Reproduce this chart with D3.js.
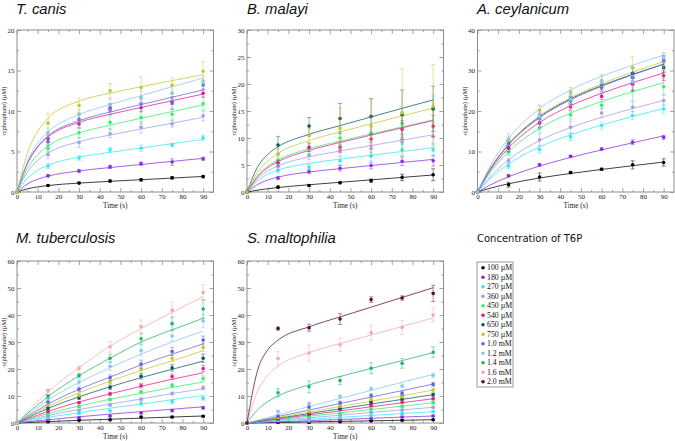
<!DOCTYPE html>
<html><head><meta charset="utf-8">
<script src="https://cdn.jsdelivr.net/npm/d3@7"></script>
<style>body{margin:0;background:#fff}</style>
</head><body>
<svg id="c" width="675" height="441"></svg>
<script>
const concLabels = ["100 µM","180 µM","270 µM","360 µM","450 µM","540 µM","650 µM","750 µM","1.0 mM","1.2 mM","1.4 mM","1.6 mM","2.0 mM"];
const concColors = ["#000000","#8a2be2","#33e8f8","#9c9cf0","#33ee6a","#e6188c","#0b5660","#c6c630","#6262e4","#86c6f2","#1fb466","#f4a8a8","#5a0a3c"];
const sampleTimes = [0,15,30,45,60,75,90];
const fitTimes = [0,5,10,15,30,45,60,75,90];
const xTicks = [0,10,20,30,40,50,60,70,80,90];

// ---- T. canis ----
const tcanisSeries = [0,1,2,3,4,5,8,9,7];
const tcanisY = [
 [0,0.8,1.1,1.35,1.5,1.75,1.9],
 [0,2.0,2.6,3.1,3.5,3.7,4.1],
 [0,3.2,4.2,5.2,5.4,5.8,6.7],
 [0,4.6,6.1,7.2,8.0,8.4,9.4],
 [0,5.4,7.3,8.6,9.2,9.6,10.9],
 [0,6.6,8.4,10.4,10.4,11.2,12.2],
 [0,6.2,9.0,10.2,10.9,11.0,13.2],
 [0,7.3,9.6,10.8,11.7,12.2,13.5],
 [0,8.5,10.7,12.5,12.9,13.2,14.9]];
const tcanisErr = [
 [0,.1,.1,.15,.15,.15,.15],
 [0,.15,.2,.2,.2,.4,.2],
 [0,.3,.3,.3,.4,.2,.3],
 [0,.5,.6,.5,.7,.4,.6],
 [0,.5,.6,.8,.8,.7,.8],
 [0,.4,.5,.5,.5,.4,.5],
 [0,.5,.6,.6,.6,.8,.6],
 [0,.6,.6,.7,.8,.9,.8],
 [0,1.2,.9,.9,1.3,.9,1.2]];
const tcanisFit = [
 [0,.39,.63,.8,1.1,1.32,1.52,1.72,1.92],
 [0,.98,1.58,1.96,2.6,3.02,3.4,3.78,4.15],
 [0,1.68,2.68,3.31,4.3,4.9,5.44,5.97,6.49],
 [0,2.45,3.9,4.81,6.21,7.04,7.78,8.5,9.22],
 [0,2.9,4.6,5.67,7.29,8.25,9.1,9.93,10.75],
 [0,3.5,5.54,6.79,8.6,9.59,10.44,11.27,12.09],
 [0,3.55,5.63,6.91,8.8,9.87,10.8,11.7,12.6],
 [0,3.79,6.03,7.43,9.55,10.8,11.9,13.0,14.08],
 [0,4.76,7.49,9.1,11.23,12.2,13.0,13.75,14.5]];

// ---- B. malayi ----
const bmalayiSeries = [0,1,2,3,4,5,6,7];
const bmalayiY = [
 [0,.9,1.2,1.7,2.1,2.7,3.2],
 [0,2.6,3.8,4.4,4.9,5.7,5.8],
 [0,4.0,4.6,5.8,6.6,7.8,7.8],
 [0,4.7,6.8,7.7,8.0,9.2,10.3],
 [0,5.9,8.0,10.0,10.7,12.7,15.3],
 [0,5.4,8.3,8.3,9.8,11.6,12.2],
 [0,8.7,12.2,13.6,14.0,14.3,15.4],
 [0,7.0,10.4,11.8,12.2,14.7,15.9]];
const bmalayiErr = [
 [0,.2,.2,.2,.3,.6,1.1],
 [0,.3,.4,.5,.6,.8,1.0],
 [0,.5,.6,.7,.8,1.0,1.2],
 [0,.6,.8,1.0,1.2,1.4,1.6],
 [0,.6,.9,1.2,1.5,2.0,2.5],
 [0,.5,.8,1.0,1.3,1.6,2.0],
 [0,1.6,1.6,2.8,3.3,4.6,4.2],
 [0,1.0,1.4,3.8,5.0,8.1,7.7]];
const bmalayiFit = [
 [0,.35,.61,.83,1.34,1.8,2.25,2.7,3.15],
 [0,1.37,2.21,2.76,3.7,4.32,4.9,5.47,6.04],
 [0,2.03,3.27,4.04,5.3,6.08,6.8,7.5,8.2],
 [0,2.4,3.89,4.84,6.5,7.6,8.6,9.6,10.6],
 [0,2.93,4.75,5.93,8.0,9.42,10.75,12.05,13.35],
 [0,2.77,4.5,5.64,7.7,9.17,10.54,11.89,13.24],
 [0,4.54,6.95,8.38,10.67,12.3,13.9,15.5,17.05],
 [0,3.56,5.72,7.14,9.53,11.14,12.62,14.08,15.53]];

// ---- A. ceylanicum ----
const aceylSeries = [0,1,2,3,4,5,6,7,8,9];
const aceylY = [
 [0,1.8,3.7,4.8,5.6,6.7,7.3],
 [0,4.0,6.7,8.8,10.6,12.3,13.5],
 [0,6.4,10.5,13.6,16.4,18.9,20.5],
 [0,7.7,12.9,16.0,19.5,21.0,22.6],
 [0,9.8,15.8,19.0,21.4,25.0,26.0],
 [0,10.8,17.0,21.0,23.6,26.6,28.7],
 [0,11.9,18.5,22.6,26.2,29.3,30.7],
 [0,12.8,20.2,24.6,27.4,30.7,32.2],
 [0,11.5,18.2,23.0,25.8,28.3,32.5],
 [0,13.0,18.6,22.8,27.5,27.3,33.3]];
const aceylErr = [
 [0,.6,1.0,.3,.3,1.0,.9],
 [0,.3,.3,.3,.3,.6,.5],
 [0,.6,.9,.9,.9,1.0,1.2],
 [0,.6,1.5,1.5,1.2,1.2,1.3],
 [0,.8,1.0,1.0,.8,2.5,2.0],
 [0,.8,1.0,.8,.8,1.5,1.2],
 [0,.9,1.0,1.0,1.0,1.2,1.2],
 [0,1.0,1.2,1.2,1.2,2.7,2.0],
 [0,1.0,1.0,1.0,1.0,1.2,1.2],
 [0,1.5,2.8,2.2,1.5,1.5,1.2]];
const aceylFit = [
 [0,.78,1.44,2.03,3.45,4.58,5.57,6.5,7.4],
 [0,1.43,2.67,3.76,6.41,8.53,10.4,12.15,13.86],
 [0,2.73,4.98,6.9,11.13,14.13,16.53,18.65,20.65],
 [0,3.17,5.77,7.95,12.69,15.92,18.43,20.6,22.62],
 [0,4.0,7.25,9.95,15.71,19.5,22.35,24.77,26.99],
 [0,4.38,7.93,10.89,17.17,21.3,24.38,26.98,29.37],
 [0,4.75,8.6,11.8,18.58,23.0,26.28,29.05,31.57],
 [0,4.78,8.67,11.9,18.8,23.3,26.7,29.6,32.2],
 [0,4.66,8.46,11.61,18.34,22.77,26.1,28.93,31.53],
 [0,5.34,9.64,13.2,20.57,25.2,28.6,31.3,33.8]];

// ---- M. tuberculosis ----
const mtubSeries = [0,1,2,3,4,5,6,7,8,9,10,11];
const mtubY = [
 [0,.5,1.0,1.2,2.2,2.2,2.5],
 [0,1.1,1.9,2.6,3.7,4.6,5.6],
 [0,1.9,3.5,4.5,7.2,7.9,9.2],
 [0,2.6,4.6,6.7,8.8,10.9,13.0],
 [0,3.3,6.0,8.7,11.6,14.0,16.5],
 [0,4.3,7.5,10.8,13.8,17.2,20.2],
 [0,5.5,9.3,13.2,17.3,20.4,24.0],
 [0,6.6,10.3,15.0,19.8,24.0,28.0],
 [0,7.8,12.5,16.8,21.8,26.5,30.7],
 [0,9.0,15.2,21.0,26.8,32.2,37.8],
 [0,10.0,17.6,24.0,31.2,36.8,42.2],
 [0,12.0,20.3,28.2,35.7,41.8,48.3]];
const mtubErr = [
 [0,.1,.2,.2,.3,.3,.3],
 [0,.2,.2,.3,.3,.4,.4],
 [0,.2,.3,.4,.6,.8,.8],
 [0,.3,.4,.5,.6,.6,.8],
 [0,.3,.4,.5,.6,.8,1.0],
 [0,.3,.4,.6,.8,1.0,1.2],
 [0,.4,.5,.8,1.0,1.2,1.5],
 [0,.4,.6,.9,1.0,1.3,1.5],
 [0,.4,.8,1.0,1.5,1.5,1.5],
 [0,.5,1.0,1.5,2.0,2.0,2.5],
 [0,.6,.8,1.5,2.0,2.5,3.5],
 [0,.6,1.0,2.0,2.5,3.0,3.0]];
const mtubFit = [
 [0,.17,.33,.5,1.0,1.4,1.8,2.2,2.6],
 [0,.4,.8,1.2,2.3,3.3,4.2,5.1,6.0],
 [0,.7,1.4,2.1,3.8,5.5,7.0,8.6,10.2],
 [0,1.0,1.9,2.8,5.0,7.0,8.9,10.9,12.7],
 [0,1.2,2.4,3.5,6.3,8.8,11.0,13.2,15.2],
 [0,1.5,2.9,4.3,7.8,10.8,13.6,16.2,18.6],
 [0,1.9,3.7,5.4,9.7,13.4,16.8,19.9,22.9],
 [0,2.2,4.3,6.2,11.2,15.5,19.5,23.0,26.8],
 [0,2.5,4.8,7.0,12.5,17.0,21.5,25.5,29.3],
 [0,3.0,5.8,8.5,15.0,20.5,25.5,30.0,34.0],
 [0,3.5,6.7,9.8,17.5,24.0,30.0,34.5,38.8],
 [0,4.1,7.9,11.5,20.5,28.5,35.0,41.0,46.8]];

// ---- S. maltophilia ----
const smaltSeries = [0,1,2,3,4,5,6,7,8,9,10,11,12];
const smaltY = [
 [0,.2,.2,.5,.8,1.0,1.2],
 [0,.6,.6,1.2,1.6,2.2,2.6],
 [0,.9,1.0,2.0,2.8,3.5,4.2],
 [0,2.2,1.8,3.0,4.0,4.8,5.8],
 [0,1.2,2.5,3.5,5.2,6.2,7.5],
 [0,1.5,3.2,5.0,6.5,7.8,9.0],
 [0,1.8,3.7,5.5,7.7,9.0,10.5],
 [0,2.0,4.2,6.2,8.8,9.8,12.2],
 [0,2.5,5.9,7.5,10.2,11.0,14.3],
 [0,4.2,7.2,9.8,12.7,13.7,17.7],
 [0,11.2,13.4,15.7,20.3,22.1,26.2],
 [0,23.9,25.9,29.0,33.5,35.4,40.0],
 [0,35.0,35.3,38.5,45.7,46.3,48.0]];
const smaltErr = [
 [0,.1,.1,.1,.1,.2,.2],
 [0,.2,.2,.2,.2,.3,.3],
 [0,.2,.2,.3,.3,.3,.3],
 [0,.3,.3,.3,.3,.4,.4],
 [0,.2,.3,.3,.4,.4,.5],
 [0,.3,.3,.4,.4,.5,.5],
 [0,.3,.3,.4,.5,.5,.6],
 [0,.3,.4,.5,.5,.6,.7],
 [0,.4,.5,.6,.6,.8,.7],
 [0,.4,.5,.6,.6,.8,.8],
 [0,1.5,2.2,1.5,2.0,1.8,2.0],
 [0,2.5,3.0,2.5,2.8,2.6,2.5],
 [0,.6,1.3,2.0,1.0,.8,3.0]];
const smaltFit = [
 [0,.07,.13,.2,.4,.6,.8,1.0,1.2],
 [0,.15,.29,.44,.87,1.3,1.74,2.2,2.6],
 [0,.24,.47,.7,1.4,2.1,2.8,3.5,4.2],
 [0,.33,.65,1.0,1.95,2.9,3.9,4.85,5.8],
 [0,.42,.83,1.25,2.5,3.75,5.0,6.25,7.5],
 [0,.5,1.0,1.5,3.0,4.5,6.0,7.5,9.0],
 [0,.59,1.17,1.75,3.5,5.25,7.0,8.75,10.5],
 [0,.68,1.35,2.0,4.05,6.1,8.1,10.1,12.2],
 [0,.8,1.6,2.4,4.8,7.2,9.6,12.0,14.4],
 [0,1.0,2.0,3.0,6.1,9.1,12.1,15.1,18.0],
 [0,4.81,7.89,10.03,14.12,17.24,20.2,23.13,26.05],
 [0,11.6,17.64,21.05,26.08,29.43,32.6,35.75,38.9],
 [0,19.2,27.05,30.67,35.63,39.3,42.9,46.5,50.1]];

const panelTitles = ["T. canis","B. malayi","A. ceylanicum","M. tuberculosis","S. maltophilia"];
const yTicksList = [[0,5,10,15,20],[0,5,10,15,20,25,30],[0,10,20,30,40],[0,10,20,30,40,50,60],[0,10,20,30,40,50,60]];
const legendTitle = "Concentration of T6P";

// ---- layout ----
const svg = d3.select("#c");
const PW = 196.5, PH = 162;
const panelPos = [[17,30],[247,30],[477.5,30],[17,261],[247,261]];
const panelData = [
 [tcanisSeries,tcanisY,tcanisErr,tcanisFit],
 [bmalayiSeries,bmalayiY,bmalayiErr,bmalayiFit],
 [aceylSeries,aceylY,aceylErr,aceylFit],
 [mtubSeries,mtubY,mtubErr,mtubFit],
 [smaltSeries,smaltY,smaltErr,smaltFit]];
const titlePos = [[16,14],[247,14],[477,14],[16,243],[247,243]];
const frameColor = "#8c8c8c";
const serif = "'Liberation Serif','DejaVu Serif',serif";

panelData.forEach((pd, pi) => {
  const [px, py] = panelPos[pi];
  const yTicks = yTicksList[pi];
  const ymax = yTicks[yTicks.length-1];
  const x = d3.scaleLinear().domain([0,95]).range([0,PW]);
  const y = d3.scaleLinear().domain([0,ymax]).range([PH,0]);
  const g = svg.append("g").attr("transform",`translate(${px},${py})`);
  const step = yTicks[1]-yTicks[0];
  const yMinor = d3.range(step/2, ymax, step);
  const xMinor = d3.range(5, 95, 10);

  const styleAxis = (sel) => {
    sel.select(".domain").remove();
    sel.selectAll("line").attr("stroke",frameColor).attr("stroke-width",0.8);
    sel.selectAll("text").attr("font-family",serif).attr("font-size","7px").attr("fill","#222");
  };
  g.append("g").attr("transform",`translate(0,${PH})`)
    .call(d3.axisBottom(x).tickValues(xTicks).tickSize(-4).tickPadding(2).tickFormat(d3.format("d"))).call(styleAxis);
  g.append("g").attr("transform",`translate(0,${PH})`)
    .call(d3.axisBottom(x).tickValues(xMinor).tickSize(-2).tickFormat("")).call(styleAxis);
  g.append("g").call(d3.axisTop(x).tickValues(xTicks).tickSize(-4).tickFormat("")).call(styleAxis);
  g.append("g").call(d3.axisTop(x).tickValues(xMinor).tickSize(-2).tickFormat("")).call(styleAxis);
  g.append("g").call(d3.axisLeft(y).tickValues(yTicks).tickSize(-4).tickPadding(2.5).tickFormat(d3.format("d"))).call(styleAxis);
  g.append("g").call(d3.axisLeft(y).tickValues(yMinor).tickSize(-2).tickFormat("")).call(styleAxis);
  g.append("g").attr("transform",`translate(${PW},0)`)
    .call(d3.axisRight(y).tickValues(yTicks).tickSize(-4).tickFormat("")).call(styleAxis);
  g.append("g").attr("transform",`translate(${PW},0)`)
    .call(d3.axisRight(y).tickValues(yMinor).tickSize(-2).tickFormat("")).call(styleAxis);

  g.append("rect").attr("x",0).attr("y",0).attr("width",PW).attr("height",PH)
    .attr("fill","none").attr("stroke",frameColor).attr("stroke-width",1);

  const [series, ys, errs, fits] = pd;
  const line = d3.line().x((d,i)=>x(fitTimes[i])).y(d=>y(d)).curve(d3.curveMonotoneX);
  series.forEach((ci, si) => {
    g.append("path").attr("d", line(fits[si])).attr("fill","none")
      .attr("stroke", concColors[ci]).attr("stroke-width",1).attr("stroke-opacity",0.75);
  });
  series.forEach((ci, si) => {
    const col = concColors[ci];
    const eg = g.append("g").attr("stroke",col).attr("stroke-width",0.8).attr("stroke-opacity",0.6);
    sampleTimes.forEach((t, k) => {
      const e = errs[si][k];
      if (e <= 0) return;
      const v = ys[si][k];
      const cx = x(t);
      eg.append("line").attr("x1",cx).attr("x2",cx).attr("y1",y(v-e)).attr("y2",y(v+e));
      eg.append("line").attr("x1",cx-2).attr("x2",cx+2).attr("y1",y(v-e)).attr("y2",y(v-e));
      eg.append("line").attr("x1",cx-2).attr("x2",cx+2).attr("y1",y(v+e)).attr("y2",y(v+e));
    });
    g.append("g").selectAll("circle").data(ys[si]).join("circle")
      .attr("cx",(d,k)=>x(sampleTimes[k])).attr("cy",d=>y(d)).attr("r",1.8).attr("fill",col);
  });

  g.append("text").attr("x",PW/2).attr("y",PH+15.5).attr("text-anchor","middle")
    .attr("font-family",serif).attr("font-size","7.2px").attr("fill","#222").text("Time (s)");
  g.append("text").attr("transform",`translate(-11,${PH/2}) rotate(-90)`).attr("text-anchor","middle")
    .attr("font-family",serif).attr("font-size","6.5px").attr("fill","#222").text("c(phosphate) (µM)");

  svg.append("text").attr("x",titlePos[pi][0]).attr("y",titlePos[pi][1])
    .attr("font-family","'Liberation Sans',Arial,sans-serif").attr("font-style","italic")
    .attr("font-size","14.8px").attr("fill","#111").text(panelTitles[pi]);
});

// legend
svg.append("text").attr("x",477).attr("y",242).attr("font-family","'DejaVu Sans',sans-serif")
  .attr("font-size","10px").attr("fill","#111").text(legendTitle);
const lg = svg.append("g").attr("transform","translate(477,262)");
lg.append("rect").attr("width",36).attr("height",125).attr("fill","#fff").attr("stroke","#999").attr("stroke-width",1);
concLabels.forEach((lab,i)=>{
  const yy = 5.7 + i*9.5;
  lg.append("circle").attr("cx",6).attr("cy",yy).attr("r",1.8).attr("fill",concColors[i]);
  lg.append("text").attr("x",10).attr("y",yy+2.7).attr("font-family",serif).attr("font-size","7.8px").attr("fill","#111").text(lab);
});
</script>
</body></html>
